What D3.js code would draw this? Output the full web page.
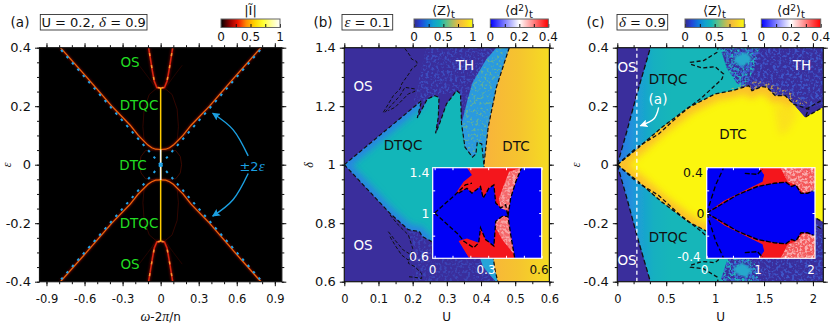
<!DOCTYPE html>
<html>
<head>
<meta charset="utf-8">
<script src="https://d3js.org/d3.v7.min.js"></script>
<style>
html, body { margin: 0; padding: 0; background: #fff; }
svg { display: block; }
text { font-family: "DejaVu Sans", sans-serif; fill: #111; }
.mi { font-family: "Liberation Serif", serif; font-style: italic; }
</style>
</head>
<body>
<script>
// tick labels
var aXTicks = [-0.9, -0.6, -0.3, 0, 0.3, 0.6, 0.9];
var aYTicks = [-0.4, -0.2, 0, 0.2, 0.4];
var bXTicks = [0, 0.1, 0.2, 0.3, 0.4, 0.5, 0.6];
var bYTicks = [0.6, 0.8, 1, 1.2, 1.4];
var cXTicks = [0, 0.5, 1, 1.5, 2];
var cYTicks = [-0.4, -0.2, 0, 0.2, 0.4];

// colour bars
var hotColors = ["#000000", "#8a0000", "#f01500", "#ff8c00", "#ffd500", "#ffff30", "#ffffa0", "#ffffff"];
var parulaColors = ["#352a87", "#2145d8", "#0f78dc", "#11a0cf", "#14b5b5", "#5dc08a", "#b0bd5d", "#f2bb3c", "#fbd625", "#f9fb0e"];
var bwrColors = ["#0000ff", "#ffffff", "#ff0000"];
var hotBarTicks = [0, 0.25, 0.5, 0.75, 1];
var zBarTicks = [0, 0.25, 0.5, 0.75, 1];
var dBarTicks = [0, 0.1, 0.2, 0.3, 0.4];

// panel (a), [omega, eps], one quadrant, mirrored when drawn
var aOuter = [[0, 0.052], [0.04, 0.053], [0.07, 0.058], [0.1, 0.067], [0.13, 0.08], [0.176, 0.1], [0.24, 0.135], [0.385, 0.2], [0.585, 0.3], [0.79, 0.4]];
var aInner = [[0, 0.262], [0.03, 0.264], [0.05, 0.285], [0.065, 0.32], [0.08, 0.36], [0.095, 0.4]];
var aDrive = [[0, 0], [0.8, 0.4]];
var aArcLow = [[0.03, 0.052], [0.12, 0.048], [0.155, 0.028], [0.165, 0]];
var aArcHigh = [[0.03, 0.262], [0.09, 0.24], [0.13, 0.19], [0.14, 0.13], [0.13, 0.08]];
var aArcOut = [[0.05, 0.27], [0.1, 0.3], [0.17, 0.34]];
var aBands = [0.285, 0.305, 0.33, 0.36];
var aCentre = [[0, -0.262], [0, 0.262]];
var aCentreHot = [[0, -0.052], [0, 0.052]];
var aArrow = [[0.69, 0.03], [0.572, 0.119], [0.41, 0.176]];

// panel (b), [U, delta]
var bDtqcUp = [[0, 1], [0.226, 1.219], [0.2135, 1.16], [0.243, 1.225], [0.265, 1.236], [0.277, 1.23], [0.275, 1.162], [0.267, 1.107], [0.28, 1.145], [0.299, 1.208], [0.3285, 1.253], [0.34, 1.242], [0.343, 1.139], [0.353, 1.06], [0.375, 1.026], [0.385, 1.037], [0.389, 1.077], [0.402, 1.071], [0.4085, 1]];
var bDtqcLow = [[0, 1], [0.1336, 0.8336], [0.187, 0.778], [0.22, 0.771], [0.228, 0.755], [0.2555, 0.737], [0.34, 0.72], [0.41, 0.72]];
var bDtc = [[0.4825, 1.4], [0.445, 1.265], [0.421, 1.128], [0.4085, 1], [0.415, 0.9], [0.428, 0.78], [0.436, 0.68], [0.441, 0.64], [0.449, 0.6]];
var bIslandA = [[0.1775, 1.397], [0.192, 1.373], [0.197, 1.361], [0.2116, 1.353], [0.2136, 1.342], [0.197, 1.327], [0.192, 1.316], [0.1678, 1.276], [0.1629, 1.259], [0.1434, 1.236], [0.1142, 1.179]];
var bIslandB = [[0.119, 1.179], [0.1629, 1.236], [0.1775, 1.2645], [0.2068, 1.259], [0.2068, 1.251], [0.1873, 1.242], [0.1727, 1.2246], [0.1483, 1.196], [0.1288, 1.185]];
var bIslandC = [[0.1337, 0.828], [0.158, 0.794], [0.1873, 0.76], [0.2, 0.714], [0.1873, 0.663], [0.2068, 0.651], [0.2263, 0.6285], [0.2263, 0.611], [0.2068, 0.615], [0.1873, 0.617]];
var bIslandD = [[0.1288, 0.771], [0.1483, 0.742], [0.1727, 0.708], [0.197, 0.691], [0.1873, 0.674], [0.1678, 0.691], [0.1483, 0.725], [0.1337, 0.754]];
var bStripUp = [[0.445, 1.4], [0.415, 1.36], [0.375, 1.28], [0.36, 1.22], [0.343, 1.14], [0.353, 1.06], [0.375, 1.026], [0.385, 1.037], [0.4085, 1], [0.421, 1.128], [0.445, 1.265], [0.4825, 1.4]];
var bStripLow = [[0.38, 0.7], [0.397, 0.68], [0.406, 0.651], [0.426, 0.623], [0.444, 0.6], [0.449, 0.6], [0.436, 0.68], [0.428, 0.72]];
var bThUp = [[0.2, 1.2], [0.24, 1.4], [0.46, 1.4], [0.42, 1.3], [0.36, 1.15], [0.33, 1.25], [0.28, 1.24]];
var bThLow = [[0.18, 0.8], [0.27, 0.72], [0.4, 0.7], [0.44, 0.6], [0.2, 0.6], [0.2, 0.72]];

// inset (b), [U, delta]
var ibRedUp = [[0.181, 1.4], [0.209, 1.336], [0.162, 1.277], [0.115, 1.166], [0.181, 1.219], [0.209, 1.175], [0.257, 1.234], [0.272, 1.131], [0.304, 1.219], [0.332, 1.248], [0.342, 1.088], [0.37, 1.044], [0.398, 1.073], [0.411, 0.971], [0.426, 1.131], [0.455, 1.277], [0.487, 1.4]];
var ibRedLow = [[0.191, 0.606], [0.134, 0.752], [0.181, 0.775], [0.247, 0.737], [0.257, 0.869], [0.285, 0.766], [0.332, 0.708], [0.342, 0.927], [0.379, 0.971], [0.411, 0.971], [0.426, 0.81], [0.449, 0.6]];
var ibPaleUp = [[0.36, 1.131], [0.417, 1.365], [0.487, 1.4], [0.455, 1.277], [0.426, 1.131], [0.411, 1.015], [0.37, 1.044]];
var ibPaleLow = [[0.342, 0.927], [0.379, 0.971], [0.411, 0.971], [0.426, 0.81], [0.445, 0.635], [0.379, 0.766], [0.342, 0.869]];
var ibLineUp = [[0, 1], [0.115, 1.161], [0.172, 1.248], [0.209, 1.263]];
var ibLineUpB = [[0.134, 1.175], [0.181, 1.219], [0.209, 1.175], [0.257, 1.234], [0.272, 1.131], [0.304, 1.219], [0.332, 1.248], [0.342, 1.088], [0.37, 1.044], [0.398, 1.073], [0.411, 0.971], [0.426, 1.131], [0.455, 1.277], [0.487, 1.4]];
var ibLineLow = [[0, 1], [0.134, 0.81], [0.162, 0.752], [0.219, 0.693], [0.247, 0.737], [0.257, 0.869], [0.285, 0.766], [0.332, 0.708], [0.342, 0.927], [0.379, 0.971], [0.411, 0.971], [0.426, 0.81], [0.449, 0.6]];

// panel (c), [U, eps], upper half, mirrored when drawn
var cOs = [[0, 0], [0.099, 0.116], [0.2, 0.2417], [0.338, 0.4]];
var cDtqc = [[0, 0], [0.2, 0.0593], [0.423, 0.105], [0.627, 0.1676], [0.866, 0.23], [1.07, 0.293], [1.087, 0.31], [1, 0.335], [0.866, 0.3306], [0.7467, 0.344], [0.747, 0.35], [0.883, 0.356], [1.02, 0.384], [1.03, 0.4]];
var cDtc = [[0, 0], [0.218, 0.059], [0.457, 0.128], [0.73, 0.196], [1, 0.242], [1.173, 0.253], [1.343, 0.27], [1.377, 0.253], [1.48, 0.267], [1.53, 0.2645], [1.615, 0.236], [1.718, 0.236], [1.803, 0.207], [1.957, 0.19], [1.92, 0.162], [2.1, 0.196]];
var cHook = [[1.93, 0.19], [2.1, 0.222]];
var cTeal = [[0, 0], [0.338, 0.4], [1.05, 0.4], [1.12, 0.33], [1.22, 0.28], [1.3, 0.255], [1, 0.23], [0.5, 0.1], [0.15, 0.03]];
var cBlue = [[1.03, 0.4], [1.45, 0.4], [1.4, 0.33], [1.3, 0.26], [1.15, 0.26], [1.12, 0.33]];
var cBlob = [[1.2, 0.37], [1.32, 0.385], [1.38, 0.36], [1.28, 0.335], [1.2, 0.35]];
var cGlowFade = [[1.6, 0.2], [1.72, 0.2], [1.85, 0.18], [1.76, 0.12], [1.66, 0.1]];
var cTh = [[1.1, 0.4], [2.1, 0.4], [2.1, 0.2], [1.8, 0.2], [1.5, 0.26], [1.2, 0.25]];
var cEdgeSpecks = [[1.15, 0.26], [1.45, 0.29], [1.7, 0.26], [1.95, 0.21], [1.8, 0.2], [1.5, 0.26], [1.2, 0.25]];
var cArrow = [[0.423, 0.196], [0.372, 0.156], [0.236, 0.133]];
var cCut = [[0.2, -0.4], [0.2, 0.4]];

// inset (c), [U, eps], upper half
var icRed = [[0, 0], [0.331, 0.108], [0.713, 0.196], [1.064, 0.277], [1.096, 0.336], [1, 0.4], [2.064, 0.4], [2.064, 0.219], [1.924, 0.175], [1.796, 0.175], [1.7, 0.248], [1.618, 0.234], [1.51, 0.272], [1.287, 0.263], [0.968, 0.234], [0.586, 0.161], [0.268, 0.073]];
var icPale = [[1.41, 0.4], [2.064, 0.4], [2.064, 0.2], [1.85, 0.175], [1.7, 0.248], [1.54, 0.28]];
var icLine = [[0, 0], [0.268, 0.073], [0.586, 0.161], [0.968, 0.234], [1.287, 0.263], [1.51, 0.272], [1.618, 0.234], [1.7, 0.248], [1.796, 0.175], [1.924, 0.175], [2.05, 0.2]];
var icIsland = [[0.726, 0.35], [0.968, 0.342], [1.064, 0.388]];
var icOs = [[0, 0], [0.172, 0.248], [0.318, 0.394]];

var svg = d3.select("body").append("svg").attr("width", 830).attr("height", 325);
var defs = svg.append("defs");

var flip = function(a) { return a.map(function(d) { return [d[0], -d[1]]; }); };
var flipX = function(a) { return a.map(function(d) { return [-d[0], d[1]]; }); };

defs.append("filter").attr("id", "soft").attr("x", "-30%").attr("y", "-30%").attr("width", "160%").attr("height", "160%")
    .append("feGaussianBlur").attr("stdDeviation", 3.5);
defs.append("filter").attr("id", "glow").attr("x", "-30%").attr("y", "-30%").attr("width", "160%").attr("height", "160%")
    .append("feGaussianBlur").attr("stdDeviation", 0.8);
defs.append("filter").attr("id", "smooth").attr("x", "-10%").attr("y", "-10%").attr("width", "120%").attr("height", "120%")
    .append("feGaussianBlur").attr("stdDeviation", 0.35);

// grainy fill for the thermal regions
function speckle(id, color, seed, gain, bias) {
  var c = d3.rgb(color);
  var f = defs.append("filter").attr("id", id).attr("x", 0).attr("y", 0).attr("width", 1).attr("height", 1)
    .attr("color-interpolation-filters", "sRGB");
  f.append("feTurbulence").attr("type", "fractalNoise").attr("baseFrequency", 0.38).attr("numOctaves", 2).attr("seed", seed).attr("result", "n");
  f.append("feColorMatrix").attr("in", "n").attr("type", "matrix")
    .attr("values", [0, 0, 0, 0, c.r / 255, 0, 0, 0, 0, c.g / 255, 0, 0, 0, 0, c.b / 255, gain, 0, 0, 0, bias].join(" ")).attr("result", "t");
  f.append("feComposite").attr("in", "t").attr("in2", "SourceAlpha").attr("operator", "in");
  f.append("feGaussianBlur").attr("stdDeviation", 0.3);
}
speckle("grainPurple", "#3f63d8", 3, 5, -2.4);
speckle("grainGreen", "#86c468", 7, 6, -3.2);
speckle("grainTeal", "#21b4c0", 5, 5, -2.3);
speckle("grainOrange", "#e0b840", 9, 6, -3.2);
speckle("grainWhite", "#ffffff", 11, 5, -2.2);

function gradient(id, colors, x1, x2) {
  var g = defs.append("linearGradient").attr("id", id);
  if (x1 !== undefined) g.attr("gradientUnits", "userSpaceOnUse").attr("x1", x1).attr("x2", x2).attr("y1", 0).attr("y2", 0);
  colors.forEach(function(c, i) {
    g.append("stop").attr("offset", i / (colors.length - 1)).attr("stop-color", c);
  });
}
gradient("hotBar", hotColors);
gradient("zBar", parulaColors);
gradient("dBar", bwrColors);

function makePanel(id, x0, x1, y0, y1, xDom, yDom) {
  var p = {};
  p.x = d3.scaleLinear().domain(xDom).range([x0, x1]);
  p.y = d3.scaleLinear().domain(yDom).range([y1, y0]);
  p.x0 = x0; p.x1 = x1; p.y0 = y0; p.y1 = y1;
  defs.append("clipPath").attr("id", id).append("rect").attr("x", x0).attr("y", y0).attr("width", x1 - x0).attr("height", y1 - y0);
  p.g = svg.append("g").attr("clip-path", "url(#" + id + ")");
  p.line = d3.line().x(function(d) { return p.x(d[0]); }).y(function(d) { return p.y(d[1]); });
  return p;
}

function fillArea(p, pts, color, extra) {
  var s = p.g.append("path").attr("d", p.line(pts) + "Z").attr("fill", color);
  if (extra) s.attr("filter", extra);
  return s;
}

function strokeLine(p, pts, color, width, dash) {
  var s = p.g.append("path").attr("d", p.line(pts)).attr("fill", "none").attr("stroke", color).attr("stroke-width", width);
  if (dash) s.attr("stroke-dasharray", dash);
  return s;
}

function box(p) {
  svg.append("rect").attr("x", p.x0).attr("y", p.y0).attr("width", p.x1 - p.x0).attr("height", p.y1 - p.y0)
     .attr("fill", "none").attr("stroke", "#111").attr("stroke-width", 1.2);
}

function outerAxes(p, xMajor, xMinor, yMajor, yMinor) {
  var sides = [
    [d3.axisBottom(p.x), "translate(0," + p.y1 + ")", xMajor, xMinor, true, 8.5, "11.5px"],
    [d3.axisTop(p.x), "translate(0," + p.y0 + ")", xMajor, xMinor, false, 3, "11.5px"],
    [d3.axisLeft(p.y), "translate(" + p.x0 + ",0)", yMajor, yMinor, true, 4, "13px"],
    [d3.axisRight(p.y), "translate(" + p.x1 + ",0)", yMajor, yMinor, false, 3, "13px"]
  ];
  sides.forEach(function(s) {
    var mn = svg.append("g").attr("transform", s[1]).call(s[0].tickValues(s[3]).tickSize(2.5).tickFormat(""));
    mn.select(".domain").remove();
    var mj = svg.append("g").attr("transform", s[1])
      .call(s[0].tickValues(s[2]).tickSize(4.5).tickPadding(s[5]).tickFormat(s[4] ? String : ""));
    mj.select(".domain").remove();
    mj.selectAll("line").attr("stroke", "#111").attr("stroke-width", 1);
    mn.selectAll("line").attr("stroke", "#111").attr("stroke-width", 1);
    mj.selectAll("text").style("font-family", '"DejaVu Sans"').style("font-size", s[6]).attr("fill", "#111");
  });
  box(p);
}

function colorBar(x0, x1, fill, ticks, dom, labels) {
  var sc = d3.scaleLinear().domain(dom).range([x0, x1]);
  svg.append("rect").attr("x", x0).attr("y", 19).attr("width", x1 - x0).attr("height", 8.5).attr("fill", "url(#" + fill + ")");
  var g = svg.append("g").attr("transform", "translate(0,27.5)").call(d3.axisTop(sc).tickValues(ticks).tickSize(3.5).tickFormat(""));
  g.select(".domain").remove();
  g.selectAll("line").attr("stroke", "#111");
  svg.append("rect").attr("x", x0).attr("y", 19).attr("width", x1 - x0).attr("height", 8.5)
     .attr("fill", "none").attr("stroke", "#666").attr("stroke-width", 1);
  labels.forEach(function(v) {
    svg.append("text").attr("x", sc(v)).attr("y", 40.5).attr("text-anchor", "middle").style("font-size", "12px").text(v);
  });
}

function barTitle(cx, name, sup) {
  var t = svg.append("text").attr("x", cx).attr("y", 15).attr("text-anchor", "middle").style("font-size", "13px");
  t.append("tspan").text("\u27E8" + name);
  if (sup) t.append("tspan").attr("dy", -4).style("font-size", "9px").text(sup);
  t.append("tspan").attr("dy", sup ? 4 : 0).text("\u27E9");
  t.append("tspan").attr("dy", 3).style("font-size", "10px").text("t");
}

function label(x, y, str, color, size) {
  return svg.append("text").attr("x", x).attr("y", y).attr("text-anchor", "middle")
    .style("font-size", (size || 13.5) + "px").style("fill", color).text(str);
}

function tagBox(x0, x1, parts) {
  svg.append("rect").attr("x", x0).attr("y", 14.5).attr("width", x1 - x0).attr("height", 15.5)
     .attr("fill", "#fff").attr("stroke", "#333").attr("stroke-width", 0.9);
  var t = svg.append("text").attr("x", (x0 + x1) / 2).attr("y", 26.7).attr("text-anchor", "middle").style("font-size", "13px");
  parts.forEach(function(s) {
    var sp = t.append("tspan").text(s[0]);
    if (s[1]) sp.attr("class", "mi").style("font-size", "15px");
  });
}

function arrowHead(id, color) {
  defs.append("marker").attr("id", id).attr("viewBox", "0 0 10 10").attr("refX", 9).attr("refY", 5)
      .attr("markerWidth", 8).attr("markerHeight", 8).attr("orient", "auto-start-reverse").attr("markerUnits", "userSpaceOnUse")
      .append("path").attr("d", "M0,0L10,5L0,10L2,5Z").attr("fill", color);
}
arrowHead("headBlue", "#1b9fe0");
arrowHead("headWhite", "#ffffff");

function curvedArrow(p, pts, color, head) {
  var c = d3.line().x(function(d) { return p.x(d[0]); }).y(function(d) { return p.y(d[1]); }).curve(d3.curveNatural);
  p.g.append("path").attr("d", c(pts)).attr("fill", "none").attr("stroke", color).attr("stroke-width", 1.4)
     .attr("marker-end", "url(#" + head + ")");
}

// ---- panel (a)
var pa = makePanel("clipA", 39.5, 281.8, 47.7, 281.7, [-0.955, 0.955], [-0.4, 0.4]);
pa.g.append("rect").attr("x", pa.x0).attr("y", pa.y0).attr("width", 243).attr("height", 234).attr("fill", "#000");
[1, -1].forEach(function(sy) {
  [1, -1].forEach(function(sx) {
    var m = function(a) { var b = sy < 0 ? flip(a) : a; return sx < 0 ? flipX(b) : b; };
    strokeLine(pa, m(aArcLow), "#4a0b00", 0.8);
    strokeLine(pa, m(aArcHigh), "#3c0800", 0.8);
    strokeLine(pa, m(aArcOut), "#320600", 0.7);
    strokeLine(pa, m(aOuter), "#7a1200", 2.2).attr("filter", "url(#glow)");
    strokeLine(pa, m(aOuter), "#f0640c", 1.2);
    strokeLine(pa, m(aInner), "#5c0a00", 3).attr("filter", "url(#glow)");
    strokeLine(pa, m(aInner), "#dc2410", 1.5);
    strokeLine(pa, m(aInner), "#ff9430", 1.5, "3 9");
  });
  aBands.forEach(function(e) {
    strokeLine(pa, [[-0.16, sy * e], [0.16, sy * e]], "#3a0a00", 1.2).attr("filter", "url(#glow)").attr("opacity", 0.6);
  });
});
strokeLine(pa, aCentre, "#ffcc00", 1.5);
strokeLine(pa, aCentreHot, "#f5f5f5", 1.5);
[aDrive, flip(aDrive), flipX(aDrive), flip(flipX(aDrive))].forEach(function(l) {
  strokeLine(pa, l, "#22a3e6", 2, "2.5 5.8");
});
pa.g.append("circle").attr("cx", pa.x(0)).attr("cy", pa.y(0)).attr("r", 2).attr("fill", "#22a3e6");
curvedArrow(pa, aArrow, "#1b9fe0", "headBlue");
curvedArrow(pa, flip(aArrow), "#1b9fe0", "headBlue");
outerAxes(pa, aXTicks, d3.range(-0.9, 0.91, 0.1), aYTicks, d3.range(-0.4, 0.41, 0.05));

label(130, 66.5, "OS", "#22dd22");
label(139, 110, "DTQC", "#22dd22");
label(133, 170, "DTC", "#22dd22");
label(139, 227.5, "DTQC", "#22dd22");
label(130, 269, "OS", "#22dd22");
var pm = svg.append("text").attr("x", 252).attr("y", 171).attr("text-anchor", "middle").style("font-size", "13px").style("fill", "#1b9fe0");
pm.append("tspan").text("\u00B12");
pm.append("tspan").attr("class", "mi").style("font-size", "15px").style("fill", "#1b9fe0").text("\u03B5");

// ---- panel (b)
var pb = makePanel("clipB", 344.3, 549.4, 47.7, 281.7, [0, 0.6], [0.6, 1.4]);
pb.g.append("rect").attr("x", pb.x0).attr("y", pb.y0).attr("width", 206).attr("height", 234).attr("fill", "#3a2e9c");
fillArea(pb, bThUp, "#3a2e9c", "url(#grainPurple)").attr("opacity", 0.6);
fillArea(pb, bThLow, "#3a2e9c", "url(#grainPurple)").attr("opacity", 0.45);
fillArea(pb, bStripUp, "#2b9adf").attr("filter", "url(#smooth)");
fillArea(pb, bStripUp, "#2b9adf", "url(#grainGreen)").attr("opacity", 0.55);
fillArea(pb, bStripLow, "#27a5d8").attr("filter", "url(#smooth)");
var bDtqcPoly = bDtqcUp.concat(bDtqcLow.slice().reverse());
defs.append("clipPath").attr("id", "clipDtqcB").append("path").attr("d", pb.line(bDtqcPoly) + "Z");
var dq = pb.g.append("g").attr("clip-path", "url(#clipDtqcB)");
dq.append("path").attr("d", pb.line(bDtqcPoly) + "Z").attr("fill", "#12b6b9");
dq.append("path").attr("d", pb.line(bDtqcUp.slice(0, 2))).attr("fill", "none").attr("stroke", "#2a80e6").attr("stroke-width", 10).attr("filter", "url(#soft)");
dq.append("path").attr("d", pb.line(bDtqcLow.slice(0, 6))).attr("fill", "none").attr("stroke", "#2a80e6").attr("stroke-width", 10).attr("filter", "url(#soft)");
gradient("dtcB", ["#f8b53a", "#f5c42f", "#f5dc22"], pb.x(0.42), pb.x(0.6));
fillArea(pb, bDtc.concat([[0.6, 0.6], [0.6, 1.4]]), "url(#dtcB)");
var dashB = "4 2.4";
strokeLine(pb, bDtqcUp, "#111", 1.2, dashB);
strokeLine(pb, bDtqcLow.slice(0, 6), "#111", 1.2, dashB);
strokeLine(pb, bDtc, "#111", 1.2, dashB);
[bIslandA, bIslandB, bIslandC, bIslandD].forEach(function(l) { strokeLine(pb, l, "#111", 1, "3.5 2"); });
outerAxes(pb, bXTicks, d3.range(0, 0.601, 0.05), bYTicks, d3.range(0.6, 1.401, 0.05));

// inset (b)
var ib = makePanel("clipIB", 432.7, 541.7, 167.7, 258.3, [-0.011, 0.6], [0.6, 1.4]);
ib.g.append("rect").attr("x", ib.x0).attr("y", ib.y0).attr("width", 110).attr("height", 91).attr("fill", "#0000f5");
fillArea(ib, ibRedUp, "#f4181f").attr("filter", "url(#smooth)");
fillArea(ib, ibRedLow, "#f4181f").attr("filter", "url(#smooth)");
fillArea(ib, ibPaleUp, "#f4686a");
fillArea(ib, ibPaleLow, "#f4686a");
fillArea(ib, ibPaleUp, "#f4686a", "url(#grainWhite)").attr("opacity", 0.4);
fillArea(ib, ibPaleLow, "#f4686a", "url(#grainWhite)").attr("opacity", 0.4);
strokeLine(ib, ibLineUp, "#000", 1.3, "4.5 2.2");
strokeLine(ib, ibLineUpB, "#000", 1.3, "4.5 2.2");
strokeLine(ib, ibLineLow, "#000", 1.3, "4.5 2.2");

function insetFrame(p, xTicks, yTicks) {
  var xs = [[d3.axisBottom(p.x), p.y1, -2.5], [d3.axisTop(p.x), p.y0, -2.5]];
  xs.forEach(function(s) {
    svg.append("g").attr("transform", "translate(0," + s[1] + ")").call(s[0].tickValues(xTicks).tickSize(s[2]).tickFormat(""))
      .call(function(g) { g.select(".domain").remove(); g.selectAll("line").attr("stroke", "#fff"); });
  });
  var ys = [[d3.axisLeft(p.y), p.x0], [d3.axisRight(p.y), p.x1]];
  ys.forEach(function(s) {
    svg.append("g").attr("transform", "translate(" + s[1] + ",0)").call(s[0].tickValues(yTicks).tickSize(-2.5).tickFormat(""))
      .call(function(g) { g.select(".domain").remove(); g.selectAll("line").attr("stroke", "#fff"); });
  });
  svg.append("rect").attr("x", p.x0).attr("y", p.y0).attr("width", p.x1 - p.x0).attr("height", p.y1 - p.y0)
     .attr("fill", "none").attr("stroke", "#fff").attr("stroke-width", 1.2);
}
insetFrame(ib, [0, 0.1, 0.2, 0.3, 0.4, 0.5, 0.6], [0.8, 1, 1.2]);
label(419.5, 177, "1.4", "#fff", 12.5);
label(425.5, 218, "1", "#fff", 12.5);
label(419, 261, "0.6", "#fff", 12.5);
label(432.5, 274, "0", "#fff", 12);
label(486, 274, "0.3", "#fff", 12);
label(539, 274, "0.6", "#111", 12);

label(363, 90.5, "OS", "#fff");
label(363, 250, "OS", "#fff");
label(403, 150, "DTQC", "#111");
label(516, 151, "DTC", "#111");
label(465, 69.5, "TH", "#fff");

// ---- panel (c)
var pc = makePanel("clipC", 617.3, 823.3, 47.7, 281.7, [0, 2.106], [-0.4, 0.4]);
pc.g.append("rect").attr("x", pc.x0).attr("y", pc.y0).attr("width", 207).attr("height", 234).attr("fill", "#3a2e9c");
gradient("dtqcC", ["#2a78e4", "#1d9cd8", "#14b0c0", "#12b6b9"], pc.x(0.02), pc.x(0.55));
[1, -1].forEach(function(sy) {
  var m = function(a) { return sy < 0 ? flip(a) : a; };
  fillArea(pc, m(cTh), "#3a2e9c", "url(#grainPurple)").attr("opacity", 0.75);
  fillArea(pc, m(cBlue), "#2c72d8", "url(#grainTeal)");
  fillArea(pc, m(cBlue), "#2c72d8", "url(#grainPurple)").attr("opacity", 0.8);
  fillArea(pc, m(cBlob), "#25a8cc").attr("filter", "url(#glow)");
  fillArea(pc, m(cTeal), "url(#dtqcC)").attr("filter", "url(#smooth)");
  fillArea(pc, m(cEdgeSpecks), "#20a0cc", "url(#grainOrange)").attr("opacity", 0.7);
});
var cDtcPoly = cDtc.slice(0, 13).concat(cDtc.slice(14), [[2.106, -0.196]], flip(cDtc.slice(14)).reverse(), flip(cDtc.slice(0, 13)).reverse());
defs.append("clipPath").attr("id", "clipDtcC").append("path").attr("d", pc.line(cDtcPoly) + "Z");
var dc = pc.g.append("g").attr("clip-path", "url(#clipDtcC)");
dc.append("path").attr("d", pc.line(cDtcPoly) + "Z").attr("fill", "#fbf60e");
dc.append("path").attr("d", pc.line(cDtc.slice(0, 13)) + "M" + pc.line(flip(cDtc.slice(0, 13))).slice(1)).attr("fill", "none").attr("stroke", "#fbb233").attr("stroke-width", 14).attr("filter", "url(#soft)").attr("opacity", 0.8);
fillArea({ g: dc, line: pc.line }, cGlowFade, "#fbc435").attr("opacity", 0.4).attr("filter", "url(#soft)");
[1, -1].forEach(function(sy) {
  var m = function(a) { return sy < 0 ? flip(a) : a; };
  strokeLine(pc, m(cOs), "#111", 1.3, "5 2.6");
  strokeLine(pc, m(cDtqc), "#111", 1.3, "4 2.4");
  strokeLine(pc, m(cDtc), "#111", 1.3, "4 2.4");
  strokeLine(pc, m(cHook), "#111", 1.3, "4 2.4");
});
strokeLine(pc, cCut, "#fff", 1.3, "4 3");
curvedArrow(pc, cArrow, "#fff", "headWhite");
outerAxes(pc, cXTicks, d3.range(0, 2.1, 0.5 / 3), cYTicks, d3.range(-0.4, 0.41, 0.05));

// inset (c)
var ic = makePanel("clipIC", 706.7, 815, 167.7, 258.3, [0, 2.065], [-0.4, 0.4]);
ic.g.append("rect").attr("x", ic.x0).attr("y", ic.y0).attr("width", 109).attr("height", 91).attr("fill", "#0000f5");
[1, -1].forEach(function(sy) {
  var m = function(a) { return sy < 0 ? flip(a) : a; };
  fillArea(ic, m(icRed), "#f4181f").attr("filter", "url(#smooth)");
  fillArea(ic, m(icPale), "#f4585a");
  fillArea(ic, m(icPale), "#f4585a", "url(#grainWhite)").attr("opacity", 0.5);
  strokeLine(ic, m(icLine), "#000", 1.4, "5 1.6");
  strokeLine(ic, m(icIsland), "#000", 1.4, "5 1.6");
  strokeLine(ic, m(icOs), "#000", 1.3, "5 2.6");
});
insetFrame(ic, [0, 0.5, 1, 1.5, 2], [-0.2, 0, 0.2]);
label(693, 177, "0.4", "#111", 12.5);
label(700.5, 218, "0", "#111", 12.5);
label(689, 260.5, "-0.4", "#fff", 12);
label(704.5, 274, "0", "#fff", 12);
label(758, 274, "1", "#fff", 12);
label(811, 274, "2", "#fff", 12);

label(627, 71.5, "OS", "#fff");
label(627, 264.5, "OS", "#fff");
label(668, 84, "DTQC", "#111");
label(668, 241.5, "DTQC", "#111");
label(733, 139, "DTC", "#111");
label(802, 70, "TH", "#fff");
label(658, 104, "(a)", "#fff");

// ---- colour bars, tags and axis titles
colorBar(221, 280, "hotBar", hotBarTicks, [0, 1], [0, 0.5, 1]);
colorBar(414, 472.7, "zBar", zBarTicks, [0, 1], [0, 0.5, 1]);
colorBar(490.3, 548.3, "dBar", dBarTicks, [0, 0.4], [0, 0.2, 0.4]);
colorBar(685, 744.3, "zBar", zBarTicks, [0, 1], [0, 0.5, 1]);
colorBar(761.3, 820.7, "dBar", dBarTicks, [0, 0.4], [0, 0.2, 0.4]);
svg.append("text").attr("x", 250.5).attr("y", 15).attr("text-anchor", "middle").style("font-size", "13px").text("|\u0128|");
barTitle(443.5, "Z");
barTitle(519, "d", "2");
barTitle(714.5, "Z");
barTitle(791, "d", "2");

label(20, 27, "(a)", "#111");
label(323, 27, "(b)", "#111");
label(595.5, 27, "(c)", "#111");
tagBox(40.3, 147, [["U = 0.2, "], ["\u03B4", 1], [" = 0.9"]]);
tagBox(342, 392.7, [["\u03B5", 1], [" = 0.1"]]);
tagBox(617, 667.7, [["\u03B4", 1], [" = 0.9"]]);

function yTitle(x, str) {
  svg.append("text").attr("class", "mi").attr("transform", "translate(" + x + ",165) rotate(-90)")
     .attr("text-anchor", "middle").style("font-size", "12px").text(str);
}
yTitle(11, "\u03B5");
yTitle(313, "\u03B4");
yTitle(580, "\u03B5");
var xt = svg.append("text").attr("x", 160.7).attr("y", 321).attr("text-anchor", "middle").style("font-size", "12px");
xt.append("tspan").attr("class", "mi").style("font-size", "14px").text("\u03C9");
xt.append("tspan").text("-2");
xt.append("tspan").attr("class", "mi").style("font-size", "14px").text("\u03C0");
xt.append("tspan").text("/n");
label(446.7, 321, "U", "#111", 12);
label(720.7, 321, "U", "#111", 12);
</script>
</body>
</html>
